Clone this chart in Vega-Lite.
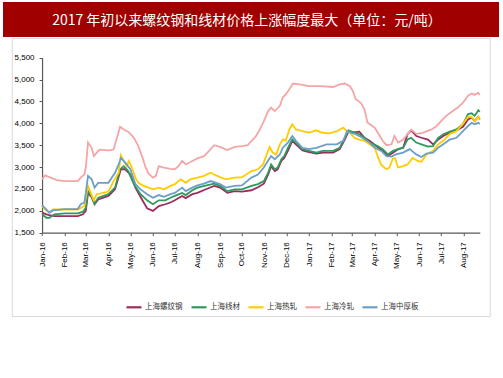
{
  "$schema": "https://vega.github.io/schema/vega-lite/v6.json",
  "background": "white",
  "padding": {"left": 3, "top": 2, "right": 0, "bottom": 0},
  "spacing": 0,
  "center": true,
  "config": {"view": {"stroke": null}, "axis": {"grid": false}},
  "vconcat": [
    {
      "width": 496,
      "height": 35,
      "view": {"fill": "#A00000", "stroke": null},
      "data": {"values": [{"t": "2017 年初以来螺纹钢和线材价格上涨幅度最大（单位：元/吨）"}]},
      "mark": {"type": "text", "color": "#ffffff", "font": "Noto Sans CJK SC", "fontSize": 14, "dx": -4, "dy": 1, "baseline": "middle", "align": "center"},
      "encoding": {"text": {"field": "t", "type": "nominal"}}
    },
    {
      "width": 478,
      "height": 278,
      "view": {"stroke": "#d9d9d9", "strokeWidth": 1, "fill": "white"},
      "data": {"values": [
        {"d":"2016-01-01","s":"上海螺纹钢","v":1960},{"d":"2016-01-07","s":"上海螺纹钢","v":1920},{"d":"2016-01-11","s":"上海螺纹钢","v":1900},{"d":"2016-01-18","s":"上海螺纹钢","v":1880},{"d":"2016-02-01","s":"上海螺纹钢","v":1880},{"d":"2016-02-19","s":"上海螺纹钢","v":1880},{"d":"2016-02-26","s":"上海螺纹钢","v":1920},{"d":"2016-03-01","s":"上海螺纹钢","v":2000},{"d":"2016-03-04","s":"上海螺纹钢","v":2410},{"d":"2016-03-09","s":"上海螺纹钢","v":2310},{"d":"2016-03-13","s":"上海螺纹钢","v":2150},{"d":"2016-03-18","s":"上海螺纹钢","v":2260},{"d":"2016-04-01","s":"上海螺纹钢","v":2340},{"d":"2016-04-10","s":"上海螺纹钢","v":2490},{"d":"2016-04-18","s":"上海螺纹钢","v":2950},{"d":"2016-04-24","s":"上海螺纹钢","v":2950},{"d":"2016-05-01","s":"上海螺纹钢","v":2830},{"d":"2016-05-08","s":"上海螺纹钢","v":2530},{"d":"2016-05-17","s":"上海螺纹钢","v":2260},{"d":"2016-05-24","s":"上海螺纹钢","v":2060},{"d":"2016-06-01","s":"上海螺纹钢","v":2000},{"d":"2016-06-09","s":"上海螺纹钢","v":2110},{"d":"2016-06-18","s":"上海螺纹钢","v":2150},{"d":"2016-06-25","s":"上海螺纹钢","v":2190},{"d":"2016-07-01","s":"上海螺纹钢","v":2240},{"d":"2016-07-11","s":"上海螺纹钢","v":2340},{"d":"2016-07-16","s":"上海螺纹钢","v":2290},{"d":"2016-07-25","s":"上海螺纹钢","v":2380},{"d":"2016-08-01","s":"上海螺纹钢","v":2410},{"d":"2016-08-15","s":"上海螺纹钢","v":2510},{"d":"2016-08-24","s":"上海螺纹钢","v":2570},{"d":"2016-09-01","s":"上海螺纹钢","v":2530},{"d":"2016-09-11","s":"上海螺纹钢","v":2410},{"d":"2016-09-21","s":"上海螺纹钢","v":2450},{"d":"2016-10-01","s":"上海螺纹钢","v":2440},{"d":"2016-10-14","s":"上海螺纹钢","v":2470},{"d":"2016-10-23","s":"上海螺纹钢","v":2540},{"d":"2016-10-31","s":"上海螺纹钢","v":2620},{"d":"2016-11-06","s":"上海螺纹钢","v":2830},{"d":"2016-11-10","s":"上海螺纹钢","v":3020},{"d":"2016-11-15","s":"上海螺纹钢","v":2910},{"d":"2016-11-19","s":"上海螺纹钢","v":2950},{"d":"2016-11-24","s":"上海螺纹钢","v":3140},{"d":"2016-11-28","s":"上海螺纹钢","v":3210},{"d":"2016-12-03","s":"上海螺纹钢","v":3370},{"d":"2016-12-09","s":"上海螺纹钢","v":3600},{"d":"2016-12-14","s":"上海螺纹钢","v":3520},{"d":"2016-12-23","s":"上海螺纹钢","v":3380},{"d":"2017-01-01","s":"上海螺纹钢","v":3340},{"d":"2017-01-11","s":"上海螺纹钢","v":3310},{"d":"2017-01-20","s":"上海螺纹钢","v":3330},{"d":"2017-02-03","s":"上海螺纹钢","v":3330},{"d":"2017-02-12","s":"上海螺纹钢","v":3410},{"d":"2017-02-19","s":"上海螺纹钢","v":3630},{"d":"2017-02-24","s":"上海螺纹钢","v":3810},{"d":"2017-03-02","s":"上海螺纹钢","v":3790},{"d":"2017-03-11","s":"上海螺纹钢","v":3810},{"d":"2017-03-18","s":"上海螺纹钢","v":3670},{"d":"2017-03-25","s":"上海螺纹钢","v":3600},{"d":"2017-04-03","s":"上海螺纹钢","v":3480},{"d":"2017-04-12","s":"上海螺纹钢","v":3370},{"d":"2017-04-19","s":"上海螺纹钢","v":3250},{"d":"2017-04-26","s":"上海螺纹钢","v":3330},{"d":"2017-05-03","s":"上海螺纹钢","v":3410},{"d":"2017-05-10","s":"上海螺纹钢","v":3440},{"d":"2017-05-16","s":"上海螺纹钢","v":3750},{"d":"2017-05-21","s":"上海螺纹钢","v":3840},{"d":"2017-05-28","s":"上海螺纹钢","v":3710},{"d":"2017-06-04","s":"上海螺纹钢","v":3670},{"d":"2017-06-13","s":"上海螺纹钢","v":3630},{"d":"2017-06-20","s":"上海螺纹钢","v":3520},{"d":"2017-06-27","s":"上海螺纹钢","v":3630},{"d":"2017-07-04","s":"上海螺纹钢","v":3710},{"d":"2017-07-13","s":"上海螺纹钢","v":3790},{"d":"2017-07-22","s":"上海螺纹钢","v":3840},{"d":"2017-07-31","s":"上海螺纹钢","v":3920},{"d":"2017-08-07","s":"上海螺纹钢","v":4090},{"d":"2017-08-12","s":"上海螺纹钢","v":4130},{"d":"2017-08-16","s":"上海螺纹钢","v":4050},{"d":"2017-08-21","s":"上海螺纹钢","v":4150},{"d":"2017-08-23","s":"上海螺纹钢","v":4090},

        {"d":"2016-01-01","s":"上海线材","v":1920},{"d":"2016-01-07","s":"上海线材","v":1840},{"d":"2016-01-11","s":"上海线材","v":1840},{"d":"2016-01-18","s":"上海线材","v":1920},{"d":"2016-02-01","s":"上海线材","v":1940},{"d":"2016-02-19","s":"上海线材","v":1940},{"d":"2016-02-26","s":"上海线材","v":1980},{"d":"2016-03-01","s":"上海线材","v":2070},{"d":"2016-03-04","s":"上海线材","v":2450},{"d":"2016-03-09","s":"上海线材","v":2340},{"d":"2016-03-13","s":"上海线材","v":2160},{"d":"2016-03-18","s":"上海线材","v":2300},{"d":"2016-04-01","s":"上海线材","v":2380},{"d":"2016-04-10","s":"上海线材","v":2530},{"d":"2016-04-17","s":"上海线材","v":2950},{"d":"2016-04-22","s":"上海线材","v":3020},{"d":"2016-04-28","s":"上海线材","v":2910},{"d":"2016-05-06","s":"上海线材","v":2610},{"d":"2016-05-15","s":"上海线材","v":2380},{"d":"2016-05-24","s":"上海线材","v":2240},{"d":"2016-06-01","s":"上海线材","v":2150},{"d":"2016-06-09","s":"上海线材","v":2240},{"d":"2016-06-18","s":"上海线材","v":2240},{"d":"2016-06-25","s":"上海线材","v":2300},{"d":"2016-07-01","s":"上海线材","v":2340},{"d":"2016-07-11","s":"上海线材","v":2410},{"d":"2016-07-16","s":"上海线材","v":2360},{"d":"2016-07-25","s":"上海线材","v":2470},{"d":"2016-08-01","s":"上海线材","v":2530},{"d":"2016-08-15","s":"上海线材","v":2590},{"d":"2016-08-24","s":"上海线材","v":2620},{"d":"2016-09-01","s":"上海线材","v":2570},{"d":"2016-09-11","s":"上海线材","v":2450},{"d":"2016-09-21","s":"上海线材","v":2490},{"d":"2016-10-01","s":"上海线材","v":2490},{"d":"2016-10-14","s":"上海线材","v":2570},{"d":"2016-10-23","s":"上海线材","v":2610},{"d":"2016-10-31","s":"上海线材","v":2680},{"d":"2016-11-06","s":"上海线材","v":2870},{"d":"2016-11-10","s":"上海线材","v":3060},{"d":"2016-11-15","s":"上海线材","v":2950},{"d":"2016-11-19","s":"上海线材","v":2990},{"d":"2016-11-24","s":"上海线材","v":3180},{"d":"2016-11-28","s":"上海线材","v":3250},{"d":"2016-12-03","s":"上海线材","v":3440},{"d":"2016-12-09","s":"上海线材","v":3630},{"d":"2016-12-14","s":"上海线材","v":3560},{"d":"2016-12-23","s":"上海线材","v":3410},{"d":"2017-01-01","s":"上海线材","v":3370},{"d":"2017-01-11","s":"上海线材","v":3330},{"d":"2017-01-20","s":"上海线材","v":3370},{"d":"2017-02-03","s":"上海线材","v":3370},{"d":"2017-02-12","s":"上海线材","v":3440},{"d":"2017-02-19","s":"上海线材","v":3670},{"d":"2017-02-24","s":"上海线材","v":3840},{"d":"2017-03-04","s":"上海线材","v":3790},{"d":"2017-03-11","s":"上海线材","v":3750},{"d":"2017-03-18","s":"上海线材","v":3670},{"d":"2017-03-25","s":"上海线材","v":3560},{"d":"2017-04-05","s":"上海线材","v":3480},{"d":"2017-04-12","s":"上海线材","v":3410},{"d":"2017-04-19","s":"上海线材","v":3290},{"d":"2017-04-26","s":"上海线材","v":3370},{"d":"2017-05-03","s":"上海线材","v":3410},{"d":"2017-05-10","s":"上海线材","v":3440},{"d":"2017-05-16","s":"上海线材","v":3630},{"d":"2017-05-21","s":"上海线材","v":3670},{"d":"2017-05-28","s":"上海线材","v":3560},{"d":"2017-06-04","s":"上海线材","v":3520},{"d":"2017-06-13","s":"上海线材","v":3470},{"d":"2017-06-20","s":"上海线材","v":3480},{"d":"2017-06-27","s":"上海线材","v":3670},{"d":"2017-07-04","s":"上海线材","v":3750},{"d":"2017-07-13","s":"上海线材","v":3810},{"d":"2017-07-22","s":"上海线材","v":3860},{"d":"2017-07-31","s":"上海线材","v":3980},{"d":"2017-08-07","s":"上海线材","v":4210},{"d":"2017-08-12","s":"上海线材","v":4230},{"d":"2017-08-16","s":"上海线材","v":4170},{"d":"2017-08-21","s":"上海线材","v":4300},{"d":"2017-08-23","s":"上海线材","v":4260},

        {"d":"2016-01-01","s":"上海热轧","v":2110},{"d":"2016-01-07","s":"上海热轧","v":2000},{"d":"2016-01-11","s":"上海热轧","v":1960},{"d":"2016-01-16","s":"上海热轧","v":2030},{"d":"2016-02-01","s":"上海热轧","v":2030},{"d":"2016-02-19","s":"上海热轧","v":2030},{"d":"2016-02-28","s":"上海热轧","v":2110},{"d":"2016-03-01","s":"上海热轧","v":2300},{"d":"2016-03-04","s":"上海热轧","v":2570},{"d":"2016-03-09","s":"上海热轧","v":2360},{"d":"2016-03-12","s":"上海热轧","v":2240},{"d":"2016-03-16","s":"上海热轧","v":2380},{"d":"2016-03-25","s":"上海热轧","v":2410},{"d":"2016-04-01","s":"上海热轧","v":2440},{"d":"2016-04-08","s":"上海热轧","v":2680},{"d":"2016-04-15","s":"上海热轧","v":2870},{"d":"2016-04-18","s":"上海热轧","v":3270},{"d":"2016-04-22","s":"上海热轧","v":3140},{"d":"2016-04-26","s":"上海热轧","v":3020},{"d":"2016-04-29","s":"上海热轧","v":3140},{"d":"2016-05-03","s":"上海热轧","v":2990},{"d":"2016-05-08","s":"上海热轧","v":2760},{"d":"2016-05-12","s":"上海热轧","v":2640},{"d":"2016-05-19","s":"上海热轧","v":2570},{"d":"2016-05-26","s":"上海热轧","v":2530},{"d":"2016-06-01","s":"上海热轧","v":2490},{"d":"2016-06-09","s":"上海热轧","v":2530},{"d":"2016-06-16","s":"上海热轧","v":2490},{"d":"2016-06-25","s":"上海热轧","v":2570},{"d":"2016-07-01","s":"上海热轧","v":2610},{"d":"2016-07-09","s":"上海热轧","v":2720},{"d":"2016-07-16","s":"上海热轧","v":2640},{"d":"2016-07-22","s":"上海热轧","v":2720},{"d":"2016-08-01","s":"上海热轧","v":2760},{"d":"2016-08-10","s":"上海热轧","v":2800},{"d":"2016-08-19","s":"上海热轧","v":2870},{"d":"2016-08-24","s":"上海热轧","v":2830},{"d":"2016-09-01","s":"上海热轧","v":2770},{"d":"2016-09-09","s":"上海热轧","v":2720},{"d":"2016-09-21","s":"上海热轧","v":2760},{"d":"2016-10-01","s":"上海热轧","v":2770},{"d":"2016-10-14","s":"上海热轧","v":2910},{"d":"2016-10-23","s":"上海热轧","v":2950},{"d":"2016-10-30","s":"上海热轧","v":3060},{"d":"2016-11-03","s":"上海热轧","v":3250},{"d":"2016-11-08","s":"上海热轧","v":3460},{"d":"2016-11-12","s":"上海热轧","v":3330},{"d":"2016-11-17","s":"上海热轧","v":3290},{"d":"2016-11-22","s":"上海热轧","v":3520},{"d":"2016-11-26","s":"上海热轧","v":3630},{"d":"2016-11-30","s":"上海热轧","v":3600},{"d":"2016-12-05","s":"上海热轧","v":3860},{"d":"2016-12-09","s":"上海热轧","v":3980},{"d":"2016-12-14","s":"上海热轧","v":3860},{"d":"2016-12-23","s":"上海热轧","v":3820},{"d":"2017-01-01","s":"上海热轧","v":3790},{"d":"2017-01-11","s":"上海热轧","v":3840},{"d":"2017-01-18","s":"上海热轧","v":3790},{"d":"2017-01-29","s":"上海热轧","v":3770},{"d":"2017-02-08","s":"上海热轧","v":3820},{"d":"2017-02-17","s":"上海热轧","v":3900},{"d":"2017-02-22","s":"上海热轧","v":3820},{"d":"2017-02-26","s":"上海热轧","v":3790},{"d":"2017-03-04","s":"上海热轧","v":3670},{"d":"2017-03-11","s":"上海热轧","v":3630},{"d":"2017-03-18","s":"上海热轧","v":3600},{"d":"2017-03-25","s":"上海热轧","v":3520},{"d":"2017-04-01","s":"上海热轧","v":3440},{"d":"2017-04-05","s":"上海热轧","v":3250},{"d":"2017-04-10","s":"上海热轧","v":3050},{"d":"2017-04-17","s":"上海热轧","v":2950},{"d":"2017-04-21","s":"上海热轧","v":2990},{"d":"2017-04-26","s":"上海热轧","v":3200},{"d":"2017-04-29","s":"上海热轧","v":3200},{"d":"2017-05-03","s":"上海热轧","v":2990},{"d":"2017-05-10","s":"上海热轧","v":3020},{"d":"2017-05-16","s":"上海热轧","v":3060},{"d":"2017-05-23","s":"上海热轧","v":3210},{"d":"2017-05-30","s":"上海热轧","v":3140},{"d":"2017-06-04","s":"上海热轧","v":3120},{"d":"2017-06-11","s":"上海热轧","v":3290},{"d":"2017-06-20","s":"上海热轧","v":3370},{"d":"2017-06-27","s":"上海热轧","v":3520},{"d":"2017-07-04","s":"上海热轧","v":3600},{"d":"2017-07-13","s":"上海热轧","v":3760},{"d":"2017-07-22","s":"上海热轧","v":3820},{"d":"2017-07-31","s":"上海热轧","v":3990},{"d":"2017-08-07","s":"上海热轧","v":4150},{"d":"2017-08-12","s":"上海热轧","v":4140},{"d":"2017-08-16","s":"上海热轧","v":4050},{"d":"2017-08-21","s":"上海热轧","v":4150},{"d":"2017-08-23","s":"上海热轧","v":4090},

        {"d":"2016-01-01","s":"上海冷轧","v":2720},{"d":"2016-01-05","s":"上海冷轧","v":2810},{"d":"2016-01-11","s":"上海冷轧","v":2770},{"d":"2016-01-21","s":"上海冷轧","v":2700},{"d":"2016-02-01","s":"上海冷轧","v":2680},{"d":"2016-02-19","s":"上海冷轧","v":2680},{"d":"2016-02-23","s":"上海冷轧","v":2760},{"d":"2016-02-28","s":"上海冷轧","v":2830},{"d":"2016-03-01","s":"上海冷轧","v":2990},{"d":"2016-03-04","s":"上海冷轧","v":3560},{"d":"2016-03-09","s":"上海冷轧","v":3440},{"d":"2016-03-12","s":"上海冷轧","v":3250},{"d":"2016-03-16","s":"上海冷轧","v":3330},{"d":"2016-03-20","s":"上海冷轧","v":3400},{"d":"2016-04-01","s":"上海冷轧","v":3380},{"d":"2016-04-08","s":"上海冷轧","v":3400},{"d":"2016-04-12","s":"上海冷轧","v":3630},{"d":"2016-04-17","s":"上海冷轧","v":3920},{"d":"2016-04-22","s":"上海冷轧","v":3860},{"d":"2016-04-28","s":"上海冷轧","v":3810},{"d":"2016-05-06","s":"上海冷轧","v":3670},{"d":"2016-05-12","s":"上海冷轧","v":3480},{"d":"2016-05-17","s":"上海冷轧","v":3250},{"d":"2016-05-22","s":"上海冷轧","v":2990},{"d":"2016-05-26","s":"上海冷轧","v":2850},{"d":"2016-06-01","s":"上海冷轧","v":2760},{"d":"2016-06-05","s":"上海冷轧","v":2800},{"d":"2016-06-09","s":"上海冷轧","v":3020},{"d":"2016-06-16","s":"上海冷轧","v":2990},{"d":"2016-06-25","s":"上海冷轧","v":2960},{"d":"2016-07-01","s":"上海冷轧","v":2950},{"d":"2016-07-06","s":"上海冷轧","v":3020},{"d":"2016-07-11","s":"上海冷轧","v":3140},{"d":"2016-07-16","s":"上海冷轧","v":3060},{"d":"2016-07-25","s":"上海冷轧","v":3140},{"d":"2016-08-01","s":"上海冷轧","v":3200},{"d":"2016-08-10","s":"上海冷轧","v":3250},{"d":"2016-08-17","s":"上海冷轧","v":3370},{"d":"2016-08-24","s":"上海冷轧","v":3500},{"d":"2016-09-01","s":"上海冷轧","v":3460},{"d":"2016-09-11","s":"上海冷轧","v":3390},{"d":"2016-09-21","s":"上海冷轧","v":3460},{"d":"2016-10-01","s":"上海冷轧","v":3480},{"d":"2016-10-09","s":"上海冷轧","v":3500},{"d":"2016-10-16","s":"上海冷轧","v":3630},{"d":"2016-10-20","s":"上海冷轧","v":3700},{"d":"2016-10-25","s":"上海冷轧","v":3840},{"d":"2016-10-31","s":"上海冷轧","v":4050},{"d":"2016-11-06","s":"上海冷轧","v":4280},{"d":"2016-11-10","s":"上海冷轧","v":4360},{"d":"2016-11-15","s":"上海冷轧","v":4280},{"d":"2016-11-22","s":"上海冷轧","v":4400},{"d":"2016-11-26","s":"上海冷轧","v":4590},{"d":"2016-11-30","s":"上海冷轧","v":4660},{"d":"2016-12-05","s":"上海冷轧","v":4780},{"d":"2016-12-10","s":"上海冷轧","v":4910},{"d":"2016-12-19","s":"上海冷轧","v":4890},{"d":"2017-01-01","s":"上海冷轧","v":4850},{"d":"2017-01-16","s":"上海冷轧","v":4850},{"d":"2017-02-03","s":"上海冷轧","v":4830},{"d":"2017-02-12","s":"上海冷轧","v":4890},{"d":"2017-02-19","s":"上海冷轧","v":4910},{"d":"2017-02-26","s":"上海冷轧","v":4850},{"d":"2017-03-02","s":"上海冷轧","v":4740},{"d":"2017-03-06","s":"上海冷轧","v":4550},{"d":"2017-03-13","s":"上海冷轧","v":4470},{"d":"2017-03-18","s":"上海冷轧","v":4320},{"d":"2017-03-22","s":"上海冷轧","v":4020},{"d":"2017-04-01","s":"上海冷轧","v":3900},{"d":"2017-04-08","s":"上海冷轧","v":3710},{"d":"2017-04-12","s":"上海冷轧","v":3600},{"d":"2017-04-17","s":"上海冷轧","v":3500},{"d":"2017-04-24","s":"上海冷轧","v":3520},{"d":"2017-04-28","s":"上海冷轧","v":3710},{"d":"2017-05-03","s":"上海冷轧","v":3560},{"d":"2017-05-10","s":"上海冷轧","v":3630},{"d":"2017-05-16","s":"上海冷轧","v":3750},{"d":"2017-05-21","s":"上海冷轧","v":3860},{"d":"2017-05-28","s":"上海冷轧","v":3760},{"d":"2017-06-06","s":"上海冷轧","v":3780},{"d":"2017-06-18","s":"上海冷轧","v":3860},{"d":"2017-06-25","s":"上海冷轧","v":3940},{"d":"2017-07-01","s":"上海冷轧","v":4050},{"d":"2017-07-08","s":"上海冷轧","v":4170},{"d":"2017-07-17","s":"上海冷轧","v":4280},{"d":"2017-07-24","s":"上海冷轧","v":4360},{"d":"2017-07-31","s":"上海冷轧","v":4470},{"d":"2017-08-07","s":"上海冷轧","v":4630},{"d":"2017-08-12","s":"上海冷轧","v":4680},{"d":"2017-08-16","s":"上海冷轧","v":4650},{"d":"2017-08-21","s":"上海冷轧","v":4700},{"d":"2017-08-23","s":"上海冷轧","v":4650},

        {"d":"2016-01-01","s":"上海中厚板","v":2130},{"d":"2016-01-07","s":"上海中厚板","v":2030},{"d":"2016-01-11","s":"上海中厚板","v":1960},{"d":"2016-01-16","s":"上海中厚板","v":2010},{"d":"2016-02-01","s":"上海中厚板","v":2040},{"d":"2016-02-19","s":"上海中厚板","v":2040},{"d":"2016-02-23","s":"上海中厚板","v":2150},{"d":"2016-02-28","s":"上海中厚板","v":2190},{"d":"2016-03-01","s":"上海中厚板","v":2410},{"d":"2016-03-04","s":"上海中厚板","v":2800},{"d":"2016-03-09","s":"上海中厚板","v":2720},{"d":"2016-03-13","s":"上海中厚板","v":2530},{"d":"2016-03-18","s":"上海中厚板","v":2640},{"d":"2016-04-01","s":"上海中厚板","v":2640},{"d":"2016-04-10","s":"上海中厚板","v":2870},{"d":"2016-04-15","s":"上海中厚板","v":3060},{"d":"2016-04-18","s":"上海中厚板","v":3210},{"d":"2016-04-24","s":"上海中厚板","v":3100},{"d":"2016-05-01","s":"上海中厚板","v":2950},{"d":"2016-05-08","s":"上海中厚板","v":2610},{"d":"2016-05-15","s":"上海中厚板","v":2490},{"d":"2016-05-24","s":"上海中厚板","v":2380},{"d":"2016-06-01","s":"上海中厚板","v":2300},{"d":"2016-06-09","s":"上海中厚板","v":2360},{"d":"2016-06-16","s":"上海中厚板","v":2320},{"d":"2016-06-25","s":"上海中厚板","v":2380},{"d":"2016-07-01","s":"上海中厚板","v":2410},{"d":"2016-07-11","s":"上海中厚板","v":2530},{"d":"2016-07-16","s":"上海中厚板","v":2450},{"d":"2016-07-25","s":"上海中厚板","v":2530},{"d":"2016-08-01","s":"上海中厚板","v":2580},{"d":"2016-08-10","s":"上海中厚板","v":2620},{"d":"2016-08-19","s":"上海中厚板","v":2680},{"d":"2016-09-01","s":"上海中厚板","v":2610},{"d":"2016-09-09","s":"上海中厚板","v":2530},{"d":"2016-09-21","s":"上海中厚板","v":2570},{"d":"2016-10-01","s":"上海中厚板","v":2580},{"d":"2016-10-14","s":"上海中厚板","v":2760},{"d":"2016-10-23","s":"上海中厚板","v":2830},{"d":"2016-10-31","s":"上海中厚板","v":2990},{"d":"2016-11-06","s":"上海中厚板","v":3150},{"d":"2016-11-10","s":"上海中厚板","v":3250},{"d":"2016-11-15","s":"上海中厚板","v":3180},{"d":"2016-11-22","s":"上海中厚板","v":3290},{"d":"2016-11-26","s":"上海中厚板","v":3440},{"d":"2016-12-03","s":"上海中厚板","v":3560},{"d":"2016-12-09","s":"上海中厚板","v":3710},{"d":"2016-12-14","s":"上海中厚板","v":3600},{"d":"2016-12-23","s":"上海中厚板","v":3440},{"d":"2017-01-01","s":"上海中厚板","v":3410},{"d":"2017-01-11","s":"上海中厚板","v":3440},{"d":"2017-01-25","s":"上海中厚板","v":3520},{"d":"2017-02-08","s":"上海中厚板","v":3520},{"d":"2017-02-17","s":"上海中厚板","v":3600},{"d":"2017-02-22","s":"上海中厚板","v":3820},{"d":"2017-02-26","s":"上海中厚板","v":3790},{"d":"2017-03-06","s":"上海中厚板","v":3750},{"d":"2017-03-15","s":"上海中厚板","v":3670},{"d":"2017-03-25","s":"上海中厚板","v":3560},{"d":"2017-04-01","s":"上海中厚板","v":3440},{"d":"2017-04-10","s":"上海中厚板","v":3370},{"d":"2017-04-17","s":"上海中厚板","v":3250},{"d":"2017-04-24","s":"上海中厚板","v":3240},{"d":"2017-04-30","s":"上海中厚板","v":3290},{"d":"2017-05-10","s":"上海中厚板","v":3330},{"d":"2017-05-19","s":"上海中厚板","v":3410},{"d":"2017-05-28","s":"上海中厚板","v":3290},{"d":"2017-06-04","s":"上海中厚板","v":3230},{"d":"2017-06-11","s":"上海中厚板","v":3310},{"d":"2017-06-20","s":"上海中厚板","v":3330},{"d":"2017-06-27","s":"上海中厚板","v":3440},{"d":"2017-07-04","s":"上海中厚板","v":3520},{"d":"2017-07-13","s":"上海中厚板","v":3630},{"d":"2017-07-22","s":"上海中厚板","v":3670},{"d":"2017-07-31","s":"上海中厚板","v":3820},{"d":"2017-08-07","s":"上海中厚板","v":3940},{"d":"2017-08-12","s":"上海中厚板","v":4010},{"d":"2017-08-16","s":"上海中厚板","v":3980},{"d":"2017-08-21","s":"上海中厚板","v":4010},{"d":"2017-08-23","s":"上海中厚板","v":3980}
      ]},
      "mark": {"type": "line", "strokeWidth": 1.8, "interpolate": "linear"},
      "encoding": {
        "x": {
          "field": "d", "type": "temporal",
          "scale": {"type": "utc", "domain": [{"year": 2016, "month": 1, "date": 1, "utc": true}, {"year": 2017, "month": 8, "date": 23, "utc": true}], "range": [30.3, 468]},
          "axis": {"title": null, "format": "%b-%y", "tickCount": {"interval": "month", "step": 1}, "labelAngle": -90, "labelAlign": "right", "labelBaseline": "middle", "labelFont": "Liberation Sans", "labelFontSize": 8, "labelColor": "#000000", "labelPadding": 6, "tickSize": 3, "tickColor": "#595959", "domainColor": "#595959", "domainWidth": 1.2, "offset": -83.3, "labelOverlap": false, "labelFlush": false, "labelBound": false, "grid": false}
        },
        "y": {
          "field": "v", "type": "quantitative",
          "scale": {"domain": [1500, 5500], "range": [194.7, 19.7], "nice": false, "zero": false},
          "axis": {"title": null, "values": [1500, 2000, 2500, 3000, 3500, 4000, 4500, 5000, 5500], "format": ",.0f", "labelFont": "Liberation Sans", "labelFontSize": 8, "labelColor": "#000000", "labelPadding": 5, "tickSize": 3, "tickColor": "#595959", "domainColor": "#595959", "domainWidth": 1.2, "offset": -30.3, "grid": false, "labelFlush": false, "labelOverlap": false}
        },
        "color": {
          "field": "s", "type": "nominal",
          "scale": {"domain": ["上海螺纹钢", "上海线材", "上海热轧", "上海冷轧", "上海中厚板"], "range": ["#9C2B5E", "#2E9A5B", "#FFCC00", "#F4A6A6", "#6C9FC7"]},
          "legend": {"orient": "none", "legendX": 122, "legendY": 296, "direction": "horizontal", "title": null, "symbolType": "stroke", "symbolSize": 225, "symbolStrokeWidth": 2.2, "labelFont": "Noto Sans CJK SC", "labelFontSize": 7.5, "labelColor": "#333333", "columnPadding": 4, "labelOffset": 2, "padding": 0, "rowPadding": 0}
        }
      }
    }
  ]
}
